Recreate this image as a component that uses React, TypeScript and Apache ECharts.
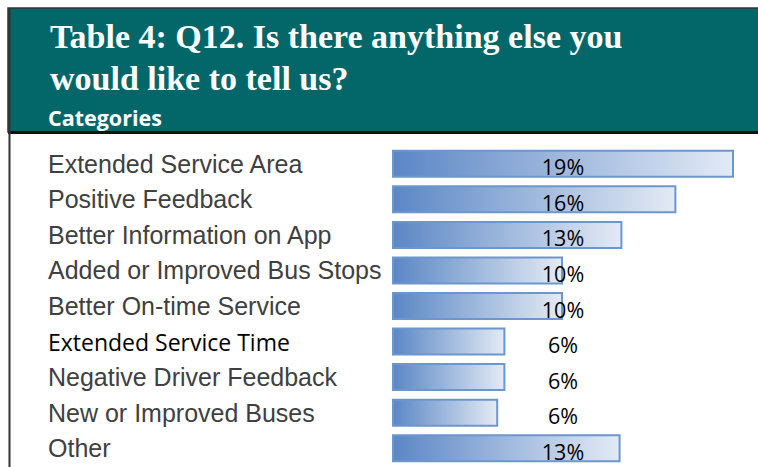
import React, { useEffect, useRef } from "react";
import * as echarts from "echarts";

const categories = [
  "Extended Service Area",
  "Positive Feedback",
  "Better Information on App",
  "Added or Improved Bus Stops",
  "Better On-time Service",
  "Extended Service Time",
  "Negative Driver Feedback",
  "New or Improved Buses",
  "Other",
];
const values = [19.0, 15.8, 12.8, 9.5, 9.5, 6.3, 6.3, 5.9, 12.7];
const titleLines = ["Table 4: Q12. Is there anything else you", "would like to tell us?"];
const subTitle = "Categories";

export default function App() {
  const ref = useRef<HTMLDivElement>(null);
  useEffect(() => {
    if (!ref.current) return;
    const chart = echarts.init(ref.current, null, { renderer: "svg" });
    chart.setOption({
      animation: false,
      backgroundColor: "#ffffff",
      graphic: [
        { type: "rect", shape: { x: 8, y: 8, width: 752, height: 124 }, style: { fill: "#03676a", stroke: "#333", lineWidth: 1.5 } },
        { type: "rect", shape: { x: 8, y: 131, width: 750, height: 3 }, style: { fill: "#111" } },
        { type: "rect", shape: { x: 8.5, y: 8, width: 2, height: 459 }, style: { fill: "#333" } },
        { type: "text", style: { text: titleLines[0], x: 50, y: 36, verticalAlign: "middle", fill: "#ffffff", font: "bold 34px 'Liberation Serif'" } },
        { type: "text", style: { text: titleLines[1], x: 50, y: 78, verticalAlign: "middle", fill: "#ffffff", font: "bold 34px 'Liberation Serif'" } },
        { type: "text", style: { text: subTitle, x: 48, y: 117.5, verticalAlign: "middle", fill: "#ffffff", font: "bold 21.5px 'Open Sans'" } },
      ],
      grid: { left: 392, right: 6, top: 146, height: 320, containLabel: false },
      xAxis: {
        type: "value",
        min: 0,
        max: 20,
        show: false,
      },
      yAxis: {
        type: "category",
        data: categories,
        inverse: true,
        axisLine: { show: false },
        axisTick: { show: false },
        splitLine: { show: false },
        axisLabel: {
          align: "left",
          margin: 344,
          color: "#404040",
          fontFamily: "'Liberation Sans', Arial",
          fontSize: 25,
          formatter: (v: string) => (v === "Extended Service Time" ? `{b|${v}}` : v),
          rich: {
            b: { fontFamily: "'Open Sans'", fontSize: 23, color: "#000" },
          },
        },
      },
      series: [
        {
          type: "bar",
          data: values,
          barWidth: 28,
          itemStyle: {
            color: new echarts.graphic.LinearGradient(0, 0, 1, 0, [
              { offset: 0, color: "#5b87c5" },
              { offset: 1, color: "#e3eaf5" },
            ]),
            borderColor: "#6c96cf",
            borderWidth: 2,
          },
          label: {
            show: true,
            position: [171, "50%"],
            offset: [0, 3],
            align: "center",
            verticalAlign: "middle",
            color: "#000",
            fontFamily: "'Open Sans'",
            fontSize: 21.5,
            formatter: (p: any) => `${Math.round(p.value)}%`,
          },
        },
      ],
    });
    return () => chart.dispose();
  }, []);
  return <div ref={ref} style={{ position: "absolute", left: 0, top: 0, width: 758, height: 467 }} />;
}
